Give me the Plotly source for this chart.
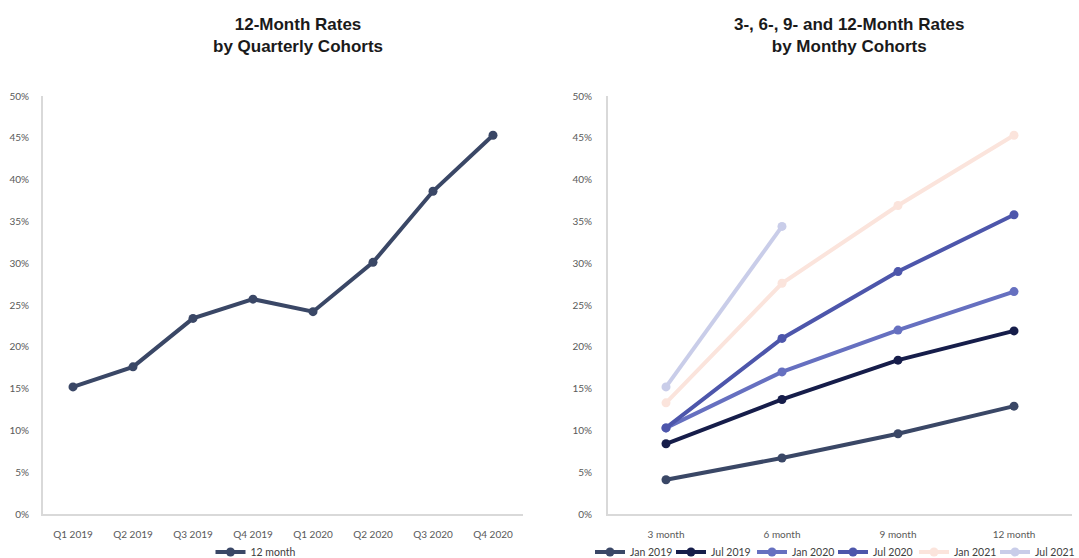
import plotly.graph_objects as go

# Left panel: 12-month rates by quarterly cohort
quarters = ["Q1 2019", "Q2 2019", "Q3 2019", "Q4 2019", "Q1 2020", "Q2 2020", "Q3 2020", "Q4 2020"]
rate_12m = [0.152, 0.176, 0.234, 0.257, 0.242, 0.301, 0.386, 0.453]

# Right panel: 3/6/9/12-month rates by monthly cohort
horizons = ["3 month", "6 month", "9 month", "12 month"]
cohort_names = ["Jan 2019", "Jul 2019", "Jan 2020", "Jul 2020", "Jan 2021", "Jul 2021"]
jan_2019 = [0.041, 0.067, 0.096, 0.129]
jul_2019 = [0.084, 0.137, 0.184, 0.219]
jan_2020 = [0.103, 0.170, 0.220, 0.266]
jul_2020 = [0.103, 0.210, 0.290, 0.358]
jan_2021 = [0.133, 0.276, 0.369, 0.453]
jul_2021 = [0.152, 0.344]
cohort_values = [jan_2019, jul_2019, jan_2020, jul_2020, jan_2021, jul_2021]
cohort_colors = ["#3a4766", "#161d4a", "#6670c0", "#4d56ab", "#fbe4dc", "#c9cde9"]

W, H = 1079, 558
fig = go.Figure()

fig.add_trace(go.Scatter(
    x=quarters, y=rate_12m, name="12 month", mode="lines+markers",
    line=dict(color="#3a4766", width=4), marker=dict(size=9, color="#3a4766"),
    xaxis="x", yaxis="y", legend="legend",
))

for name, vals, col in zip(cohort_names, cohort_values, cohort_colors):
    fig.add_trace(go.Scatter(
        x=horizons[:len(vals)], y=vals, name=name, mode="lines+markers",
        line=dict(color=col, width=4), marker=dict(size=9, color=col),
        xaxis="x2", yaxis="y2", legend="legend2",
    ))

tick_font = dict(family="Lato, Open Sans, sans-serif", size=10, color="#595959")
axis_line = dict(showline=True, linecolor="#d9d9d9", linewidth=2, showgrid=False,
                 zeroline=False, ticks="", tickfont=tick_font, automargin=False)

legend_font = dict(family="Lato, Liberation Sans, sans-serif", size=10.5, color="#404040")
y_dom = [44 / H, 462 / H]
fig.update_layout(
    width=W, height=H,
    margin=dict(l=0, r=0, t=0, b=0, pad=0, autoexpand=False),
    paper_bgcolor="white", plot_bgcolor="white",
    xaxis=dict(domain=[43 / W, 523 / W], range=[-0.5, 7.5], anchor="y",
               ticklabelstandoff=10, **axis_line),
    yaxis=dict(domain=y_dom, range=[0, 0.5], tickformat=".0%", dtick=0.05,
               anchor="x", ticklabelstandoff=10, **axis_line),
    xaxis2=dict(domain=[608 / W, 1072 / W], range=[-0.5, 3.5], anchor="y2",
                ticklabelstandoff=10, **axis_line),
    yaxis2=dict(domain=y_dom, range=[0, 0.5], tickformat=".0%", dtick=0.05,
                anchor="x2", ticklabelstandoff=12, **axis_line),
    legend=dict(orientation="h", x=256 / W, xanchor="center", y=6 / H, yanchor="middle",
                font=legend_font, itemwidth=30, bgcolor="rgba(0,0,0,0)"),
    legend2=dict(orientation="h", x=590 / W, xanchor="left", y=6 / H, yanchor="middle",
                 font=legend_font, itemwidth=30, entrywidth=36, entrywidthmode="pixels",
                 bgcolor="rgba(0,0,0,0)"),
    showlegend=True,
)

title_font = dict(family="Liberation Sans, Arial, sans-serif", size=17, color="#1a1a1a")
fig.add_annotation(text="<b>12-Month Rates</b><br><b>by Quarterly Cohorts</b>",
                   x=298 / W, y=1 - 36 / H, xref="paper", yref="paper",
                   xanchor="center", yanchor="middle",
                   showarrow=False, font=title_font, align="center")
fig.add_annotation(text="<b>3-, 6-, 9- and 12-Month Rates</b><br><b>by Monthy Cohorts</b>",
                   x=849 / W, y=1 - 36 / H, xref="paper", yref="paper",
                   xanchor="center", yanchor="middle",
                   showarrow=False, font=title_font, align="center")

fig.write_html("out.html")
